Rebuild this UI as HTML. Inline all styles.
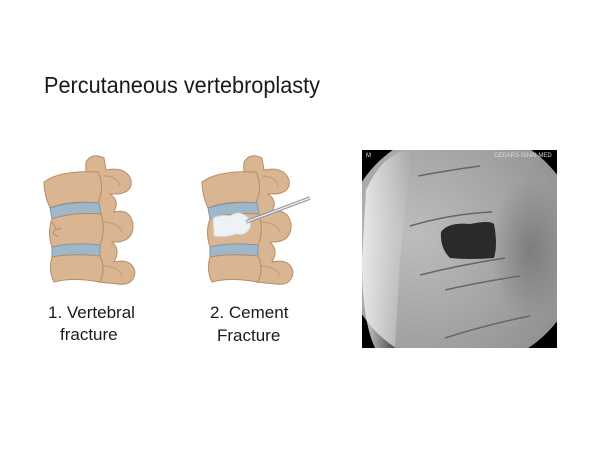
<!DOCTYPE html>
<html><head><style>
html,body{margin:0;padding:0;background:#fff;}
svg{display:block;}
text{font-family:"Liberation Sans",sans-serif;fill:#1a1a1a;}
</style></head><body>
<svg width="600" height="450" viewBox="0 0 600 450">
<defs>
<g id="spine">
  <path d="M86,162 Q92,152 104,158 L106,170 Q126,166 131,180 Q133,192 118,194 L110,194 Q120,200 114,212 Q130,208 133,224 Q134,240 118,242 L112,242 Q121,250 114,262 Q132,258 135,272 Q134,286 118,284 L98,282 Q90,276 94,262 L97,250 Q88,244 94,232 L99,220 Q90,212 94,200 L97,190 Q84,182 86,162 Z" fill="#d9b592" stroke="#b58d68" stroke-width="1"/>
  <path d="M104,176 Q118,176 120,186 M102,222 Q118,222 122,232 M102,266 Q118,266 122,276" stroke="#c19a75" fill="none"/>
  <path d="M44,182 Q60,170 98,172 Q105,186 98,203 Q70,200 50,208 Q44,195 44,182 Z" fill="#d9b592" stroke="#b58d68"/>
  <path d="M50,208 Q72,201 99,203 L101,214 Q72,212 52,219 Z" fill="#9fb8c9" stroke="#7e98aa"/>
  <path d="M52,219 Q72,212 101,214 Q106,230 100,245 Q72,242 52,247 Q47,232 52,219 Z" fill="#d9b592" stroke="#b58d68"/>
  <path d="M52,247 Q72,242 100,245 L100,256 Q72,253 52,257 Z" fill="#9fb8c9" stroke="#7e98aa"/>
  <path d="M52,257 Q72,253 100,256 Q106,268 100,282 Q72,277 54,282 Q48,270 52,257 Z" fill="#d9b592" stroke="#b58d68"/>
</g>
<clipPath id="c"><rect x="362" y="150" width="195" height="198"/></clipPath>
<radialGradient id="g" cx="0.3" cy="0.45" r="0.8">
  <stop offset="0" stop-color="#bdbdbd"/>
  <stop offset="0.5" stop-color="#a5a5a5"/>
  <stop offset="1" stop-color="#8a8a8a"/>
</radialGradient>
<linearGradient id="lf" x1="0" x2="1">
  <stop offset="0" stop-color="#eee" stop-opacity="0.9"/>
  <stop offset="1" stop-color="#eee" stop-opacity="0"/>
</linearGradient>
<radialGradient id="dk" cx="0.5" cy="0.5" r="0.5">
  <stop offset="0" stop-color="#666" stop-opacity="0.6"/>
  <stop offset="1" stop-color="#666" stop-opacity="0"/>
</radialGradient>
</defs>
<text x="44" y="93" font-size="23" textLength="276" lengthAdjust="spacingAndGlyphs">Percutaneous vertebroplasty</text>

<use href="#spine"/>
<path d="M52,222 l4,6 l-3,5 l5,4 M56,230 l6,-2" stroke="#b58d68" fill="none"/>

<use href="#spine" transform="translate(158,0)"/>
<path d="M213,218 Q222,214 230,216 Q238,210 246,216 Q252,220 250,228 Q246,236 236,234 Q226,238 214,236 Z" fill="#eef2f4" stroke="#cfd6da"/>
<line x1="246" y1="222" x2="310" y2="198" stroke="#8a8f94" stroke-width="3.5"/>
<line x1="246" y1="222" x2="310" y2="198" stroke="#e8ecef" stroke-width="1.5"/>

<text x="48" y="318" font-size="17">1. Vertebral</text>
<text x="60" y="340" font-size="17">fracture</text>
<text x="210" y="318" font-size="17">2. Cement</text>
<text x="217" y="341" font-size="17">Fracture</text>

<g clip-path="url(#c)">
  <rect x="362" y="150" width="195" height="198" fill="#000"/>
  <circle cx="462" cy="248" r="120" fill="url(#g)"/>
  <path d="M366,190 Q385,150 412,150 L400,260 L395,348 L375,348 Q362,320 362,260 Z" fill="url(#lf)"/>
  <ellipse cx="530" cy="250" rx="40" ry="70" fill="url(#dk)"/>
  <path d="M441,232 Q448,222 470,224 Q490,220 494,224 Q498,245 494,258 Q470,260 450,258 Q440,248 441,232 Z" fill="#2a2a2a"/>
  <path d="M410,226 Q450,214 492,212 M420,275 Q460,265 505,258 M445,290 Q480,282 520,276 M445,338 Q485,325 530,316 M418,176 Q450,170 480,166" stroke="#666" stroke-width="1.5" fill="none"/>
</g>
<text x="366" y="157" font-size="6" style="fill:#ddd">M</text>
<text x="494" y="157" font-size="6" style="fill:#ddd">CEDARS-SINAI MED</text>
</svg>
</body></html>
